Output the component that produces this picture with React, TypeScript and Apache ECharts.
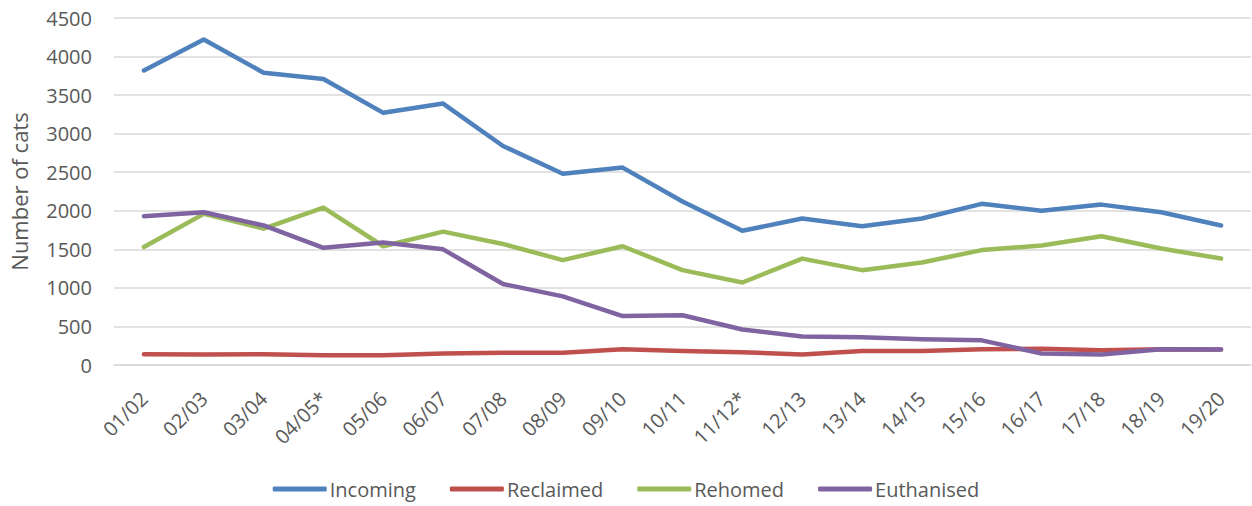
import React, { useEffect, useRef } from "react";
import * as echarts from "echarts";

const categories = ["01/02", "02/03", "03/04", "04/05*", "05/06", "06/07", "07/08", "08/09", "09/10", "10/11", "11/12*", "12/13", "13/14", "14/15", "15/16", "16/17", "17/18", "18/19", "19/20"];
const incoming = [3820, 4220, 3790, 3710, 3270, 3390, 2840, 2480, 2560, 2120, 1740, 1900, 1800, 1900, 2090, 2000, 2080, 1980, 1810];
const reclaimed = [140, 135, 140, 125, 125, 150, 160, 160, 205, 180, 165, 135, 180, 180, 205, 210, 190, 205, 200];
const rehomed = [1530, 1960, 1770, 2040, 1540, 1730, 1570, 1360, 1540, 1230, 1070, 1380, 1230, 1330, 1490, 1550, 1670, 1510, 1380];
const euthanised = [1930, 1980, 1810, 1520, 1590, 1500, 1050, 890, 635, 645, 460, 370, 360, 335, 320, 150, 135, 205, 200];

const seriesNames = ["Incoming", "Reclaimed", "Rehomed", "Euthanised"];
const colors = ["#4F81BD", "#C0504D", "#9BBB59", "#8064A2"];

export default function App() {
  const ref = useRef<HTMLDivElement>(null);
  useEffect(() => {
    if (!ref.current) return;
    const chart = echarts.init(ref.current, undefined, { renderer: "svg" });
    const font = "Open Sans";
    const datas = [incoming, reclaimed, rehomed, euthanised];
    chart.setOption({
      animation: false,
      color: colors,
      textStyle: { fontFamily: font },
      grid: { left: 113, right: 1, top: 18, bottom: 141, containLabel: false },
      legend: {
        bottom: 2,
        left: "center",
        itemWidth: 54,
        itemHeight: 5,
        itemGap: 34,
        icon: "roundRect",
        textStyle: { fontFamily: font, fontSize: 20, color: "#595959", padding: [0, 0, 0, -2] },
        data: seriesNames,
      },
      xAxis: {
        type: "category",
        data: categories,
        boundaryGap: true,
        axisLine: { show: true, lineStyle: { color: "#D9D9D9", width: 1.5 } },
        axisTick: { show: false },
        axisLabel: { rotate: 45, fontFamily: font, fontSize: 20, color: "#595959", margin: 30, interval: 0 },
      },
      yAxis: {
        type: "value",
        min: 0,
        max: 4500,
        interval: 500,
        name: "Number of cats",
        nameLocation: "middle",
        nameGap: 84,
        nameTextStyle: { fontFamily: font, fontSize: 22, color: "#595959" },
        axisLine: { show: false },
        axisTick: { show: false },
        axisLabel: { fontFamily: font, fontSize: 20, color: "#595959", margin: 22, formatter: (v: number) => String(v) },
        splitLine: { lineStyle: { color: "#D9D9D9", width: 1.5 } },
      },
      series: seriesNames.map((name, i) => ({
        name,
        type: "line",
        data: datas[i],
        symbol: "none",
        lineStyle: { width: 4.5, color: colors[i], cap: "round", join: "round" },
        itemStyle: { color: colors[i] },
      })),
    });
    return () => chart.dispose();
  }, []);
  return <div ref={ref} style={{ width: 1252, height: 506, position: "absolute", left: 0, top: 0 }} />;
}
